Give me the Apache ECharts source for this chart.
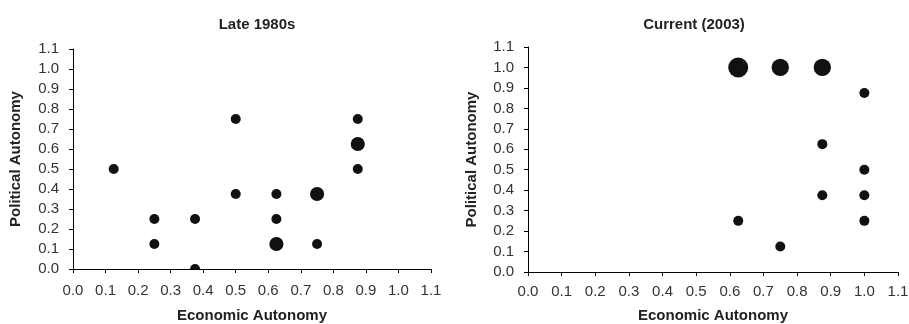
<!DOCTYPE html>
<html>
<head>
<meta charset="utf-8">
<script src="https://cdn.jsdelivr.net/npm/echarts@6/dist/echarts.min.js"></script>
<style>
  html, body { margin: 0; padding: 0; background: #fff; }
  #chart { width: 909px; height: 324px; }
</style>
</head>
<body>
<div id="chart"></div>
<script>
// Late 1980s: [economic, political, count]
const late1980s = [
  [0.125, 0.5, 1],
  [0.25, 0.25, 1], [0.25, 0.125, 1],
  [0.375, 0.25, 1], [0.375, 0.0, 1],
  [0.5, 0.75, 1], [0.5, 0.375, 1],
  [0.625, 0.375, 1], [0.625, 0.25, 1], [0.625, 0.125, 2],
  [0.75, 0.375, 2], [0.75, 0.125, 1],
  [0.875, 0.75, 1], [0.875, 0.625, 2], [0.875, 0.5, 1]
]
// Current (2003)
const current2003 = [
  [0.625, 1.0, 4], [0.75, 1.0, 3], [0.875, 1.0, 3],
  [1.0, 0.875, 1],
  [0.875, 0.625, 1], [1.0, 0.5, 1],
  [0.875, 0.375, 1], [1.0, 0.375, 1],
  [0.625, 0.25, 1], [1.0, 0.25, 1],
  [0.75, 0.125, 1]
]
const titles = ['Late 1980s', 'Current (2003)']
const xName = 'Economic Autonomy'
const yName = 'Political Autonomy'

const font = 'Liberation Sans, Arial, Helvetica, sans-serif'

// grid boxes (px)
const grids = [
  { left: 73, right: 478, top: 49, bottom: 55, outerBoundsMode: 'none' },
  { left: 528, right: 11, top: 47, bottom: 52, outerBoundsMode: 'none' }
]

function makeX (idx, gap, margin) {
  return {
    type: 'value', gridIndex: idx, min: 0, max: 1.1, interval: 0.1, z: 5,
    name: xName, nameLocation: 'middle', nameGap: gap,
    nameTextStyle: { color: '#222', fontSize: 15, fontWeight: 'bold', fontFamily: font },
    axisLine: { show: true, lineStyle: { color: '#000', width: 1 } },
    axisTick: { show: true, length: 4, lineStyle: { color: '#000' } },
    axisLabel: { color: '#333', fontSize: 15, fontFamily: font, margin: margin, formatter: v => v.toFixed(1) },
    splitLine: { show: false }
  }
}
function makeY (idx, gap) {
  return {
    type: 'value', gridIndex: idx, min: 0, max: 1.1, interval: 0.1, z: 5,
    name: yName, nameLocation: 'middle', nameGap: gap,
    nameTextStyle: { color: '#222', fontSize: 15, fontWeight: 'bold', fontFamily: font },
    axisLine: { show: true, lineStyle: { color: '#000', width: 1 } },
    axisTick: { show: true, length: 4, lineStyle: { color: '#000' } },
    axisLabel: { color: '#333', fontSize: 15, fontFamily: font, margin: 14, formatter: v => v.toFixed(1) },
    splitLine: { show: false }
  }
}

const sizeOf = d => 10 * Math.sqrt(d[2])

const chart = echarts.init(document.getElementById('chart'), null, { renderer: 'canvas' })
chart.setOption({
  animation: false,
  backgroundColor: '#fff',
  title: [
    { text: titles[0], left: 252, top: 12, textAlign: 'center',
      textStyle: { fontSize: 15, fontWeight: 'bold', color: '#222', fontFamily: font } },
    { text: titles[1], left: 689, top: 12, textAlign: 'center',
      textStyle: { fontSize: 15, fontWeight: 'bold', color: '#222', fontFamily: font } }
  ],
  grid: grids,
  // white strips under the x axes so dots sitting on 0 get cut like in the original
  graphic: grids.map(g => ({
    type: 'rect', z: 3, silent: true,
    shape: { x: g.left, y: 324 - g.bottom + 0.5, width: 909 - g.left - g.right, height: 8 },
    style: { fill: '#fff' }
  })),
  xAxis: [makeX(0, 39, 14), makeX(1, 36, 12)],
  yAxis: [makeY(0, 50), makeY(1, 49)],
  series: [
    { type: 'scatter', xAxisIndex: 0, yAxisIndex: 0, data: late1980s, z: 2,
      symbolSize: sizeOf, itemStyle: { color: '#111', opacity: 1 } },
    { type: 'scatter', xAxisIndex: 1, yAxisIndex: 1, data: current2003, z: 2,
      symbolSize: sizeOf, itemStyle: { color: '#111', opacity: 1 } }
  ]
})
</script>
</body>
</html>
